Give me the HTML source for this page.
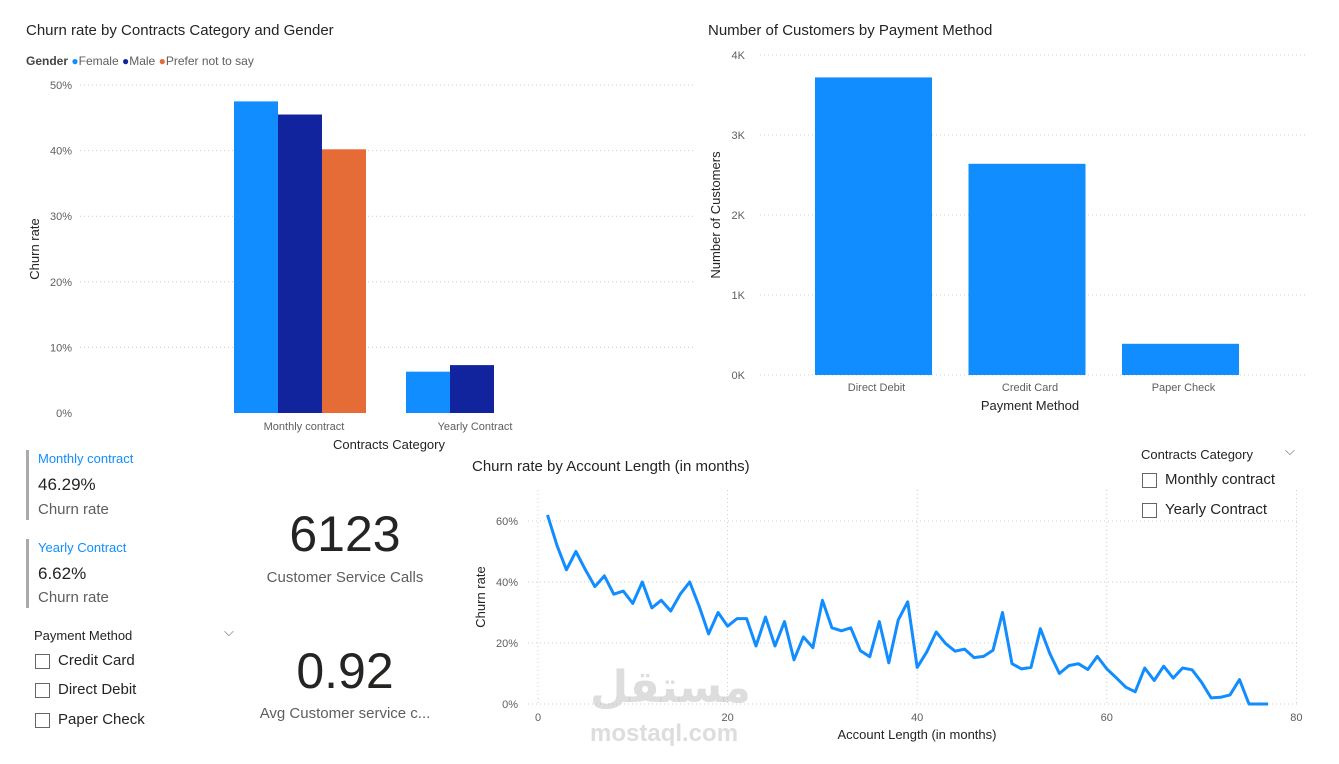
<!DOCTYPE html>
<html><head><meta charset="utf-8">
<style>
body{margin:0;width:1339px;height:764px;background:#fff;font-family:"Liberation Sans","DejaVu Sans",sans-serif;position:relative;overflow:hidden;color:#252423}
.abs{position:absolute;white-space:nowrap}
.title{font-size:15px;color:#252423}
.chk{position:absolute;width:13px;height:13px;border:1px solid #666;background:#fff}
svg text{font-family:"Liberation Sans",sans-serif}
</style></head><body>
<svg id="svg" width="1339" height="764" style="position:absolute;left:0;top:0"></svg>

<div class="abs title" style="left:26px;top:22px">Churn rate by Contracts Category and Gender</div>
<div class="abs" style="left:26px;top:54px;font-size:12px;color:#605e5c"><b style="color:#444">Gender</b>
 <span style="color:#118dff">●</span>Female <span style="color:#12239e">●</span>Male <span style="color:#e66c37">●</span>Prefer not to say</div>
<div class="abs title" style="left:708px;top:22px">Number of Customers by Payment Method</div>
<div class="abs title" style="left:472px;top:458px">Churn rate by Account Length (in months)</div>

<div class="abs" style="left:26px;top:450px;width:3px;height:70px;background:#aaa"></div>
<div class="abs" style="left:38px;top:451px;font-size:13px;color:#118dff">Monthly contract</div>
<div class="abs" style="left:38px;top:475px;font-size:17px">46.29%</div>
<div class="abs" style="left:38px;top:501px;font-size:15px;color:#605e5c">Churn rate</div>
<div class="abs" style="left:26px;top:539px;width:3px;height:69px;background:#aaa"></div>
<div class="abs" style="left:38px;top:540px;font-size:13px;color:#118dff">Yearly Contract</div>
<div class="abs" style="left:38px;top:564px;font-size:17px">6.62%</div>
<div class="abs" style="left:38px;top:589px;font-size:15px;color:#605e5c">Churn rate</div>

<div class="abs" style="left:245px;top:505px;width:200px;text-align:center;font-size:50px;color:#252423">6123</div>
<div class="abs" style="left:245px;top:569px;width:200px;text-align:center;font-size:15px;color:#605e5c">Customer Service Calls</div>
<div class="abs" style="left:245px;top:642px;width:200px;text-align:center;font-size:50px;color:#252423">0.92</div>
<div class="abs" style="left:245px;top:705px;width:200px;text-align:center;font-size:15px;color:#605e5c">Avg Customer service c...</div>

<div class="abs" style="left:34px;top:628px;font-size:13px;color:#252423">Payment Method</div>
<div class="abs" style="left:224px;top:624px;font-size:13px;color:#666">⌵</div>
<div class="chk" style="left:35px;top:654px"></div>
<div class="abs" style="left:58px;top:652px;font-size:15px">Credit Card</div>
<div class="chk" style="left:35px;top:683px"></div>
<div class="abs" style="left:58px;top:681px;font-size:15px">Direct Debit</div>
<div class="chk" style="left:35px;top:713px"></div>
<div class="abs" style="left:58px;top:711px;font-size:15px">Paper Check</div>

<div class="abs" style="left:1141px;top:447px;font-size:13px">Contracts Category</div>
<div class="abs" style="left:1285px;top:443px;font-size:13px;color:#666">⌵</div>
<div class="chk" style="left:1142px;top:473px"></div>
<div class="abs" style="left:1165px;top:471px;font-size:15px">Monthly contract</div>
<div class="chk" style="left:1142px;top:503px"></div>
<div class="abs" style="left:1165px;top:501px;font-size:15px">Yearly Contract</div>

<div class="abs" style="left:590px;top:662px;font-size:44px;font-weight:bold;color:rgba(180,180,180,0.45);font-family:'DejaVu Sans',sans-serif">مستقل</div>
<div class="abs" style="left:590px;top:720px;font-size:24px;font-weight:bold;color:rgba(180,180,180,0.45)">mostaql.com</div>

<script>
const genderCats=["Monthly contract","Yearly Contract"];
const femaleVals=[47.5,6.3];
const maleVals=[45.5,7.3];
const preferVals=[40.2,null];
const gTicks=[0,10,20,30,40,50];

const payCats=["Direct Debit","Credit Card","Paper Check"];
const payVals=[3720,2640,390];
const payTicks=[0,1000,2000,3000,4000];
const payTickLabels=["0K","1K","2K","3K","4K"];

const months=[];for(let i=1;i<=77;i++)months.push(i);
const lineVals=[62,52,44,50,44,38.5,42,36,37,33,40,31.5,34,30.5,36,40,32,23,30,25.5,28,28,19,28.5,19,27,14.5,22,18.5,34,25,24,25,17.5,15.5,27,13.5,27.5,33.5,12,17,23.6,19.8,17.3,18,15.2,15.6,17.6,30,13.2,11.5,12,24.7,16.5,10,12.6,13.2,11.3,15.6,11.5,8.6,5.5,4,11.8,7.7,12.4,8.5,11.8,11.2,7.1,2,2.2,3,8,0,0,0];
const lineYTicks=[0,20,40,60];
const lineXTicks=[0,20,40,60,80];

const svg=document.getElementById('svg');
const NS='http://www.w3.org/2000/svg';
function mk(tag,at,parent){const e=document.createElementNS(NS,tag);for(const k in at)e.setAttribute(k,at[k]);(parent||svg).appendChild(e);return e;}
function txt(x,y,s,at){const e=mk('text',Object.assign({x:x,y:y,'font-size':11,fill:'#605e5c'},at||{}));e.textContent=s;return e;}

// Chart 1
const g1y=v=>413-v*6.56;
gTicks.forEach(t=>{
 if(t>0){const l=mk('line',{x1:80,x2:695,y1:g1y(t),y2:g1y(t),stroke:'#ccc','stroke-dasharray':'1 3'});
 }
 const e=txt(72,g1y(t)+4,t+'%',{'text-anchor':'end'});
 
});
const gCenters=[300,450];
const series=[[femaleVals,'#118dff'],[maleVals,'#12239e'],[preferVals,'#e66c37']];
genderCats.forEach((c,i)=>{
 const n=series.filter(s=>s[0][i]!=null).length;
 const bw=44,start=gCenters[i]-n*bw/2;
 let k=0;
 series.forEach(s=>{const v=s[0][i];if(v==null)return;
  const r=mk('rect',{x:start+k*bw,y:g1y(v),width:bw,height:g1y(0)-g1y(v),fill:s[1]});
  k++;});
 const e=txt(i==0?304:475,430,c,{'text-anchor':'middle'});
 
});
let e=txt(389,449,'Contracts Category',{'text-anchor':'middle','font-size':13,fill:'#252423'});

e=txt(39,249,'Churn rate',{'text-anchor':'middle','font-size':13,fill:'#252423',transform:'rotate(-90 39 249)'});


// Chart 2
const p2y=v=>375-v*0.08;
payTicks.forEach((t,i)=>{
 const l=mk('line',{x1:760,x2:1305,y1:p2y(t),y2:p2y(t),stroke:'#ccc','stroke-dasharray':'1 3'});
 
 const e=txt(745,p2y(t)+4,payTickLabels[i],{'text-anchor':'end'});
 
});
payCats.forEach((c,i)=>{
 const cx=873.5+i*153.5;
 const r=mk('rect',{x:cx-58.5,y:p2y(payVals[i]),width:117,height:p2y(0)-p2y(payVals[i]),fill:'#118dff'});
 
 const e=txt(cx+3,391,c,{'text-anchor':'middle'});
 
});
e=txt(1030,410,'Payment Method',{'text-anchor':'middle','font-size':13,fill:'#252423'});

e=txt(720,215,'Number of Customers',{'text-anchor':'middle','font-size':13,fill:'#252423',transform:'rotate(-90 720 215)'});


// Chart 3
const lx=v=>538+v*9.48, ly=v=>704-v*3.05;
lineYTicks.forEach(t=>{
 const l=mk('line',{x1:528,x2:1300,y1:ly(t),y2:ly(t),stroke:'#ccc','stroke-dasharray':'1 3'});
 
 const e=txt(518,ly(t)+4,t+'%',{'text-anchor':'end'});
 
});
lineXTicks.forEach(t=>{
 const l=mk('line',{x1:lx(t),x2:lx(t),y1:490,y2:704,stroke:'#ccc','stroke-dasharray':'1 3'});
 
 const e=txt(lx(t),721,String(t),{'text-anchor':'middle'});
 
});
const pts=months.map((m,i)=>lx(m).toFixed(1)+','+ly(lineVals[i]).toFixed(1)).join(' ');
const pl=mk('polyline',{points:pts,fill:'none',stroke:'#118dff','stroke-width':3,'stroke-linejoin':'round'});

e=txt(917,739,'Account Length (in months)',{'text-anchor':'middle','font-size':13,fill:'#252423'});

e=txt(485,597,'Churn rate',{'text-anchor':'middle','font-size':13,fill:'#252423',transform:'rotate(-90 485 597)'});

</script>
</body></html>
